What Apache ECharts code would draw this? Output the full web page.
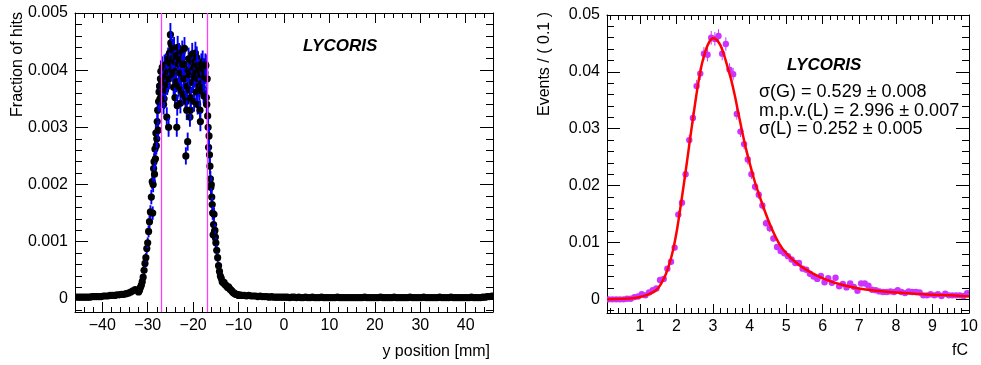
<!DOCTYPE html>
<html>
<head>
<meta charset="utf-8">
<script src="https://cdn.jsdelivr.net/npm/echarts@6/dist/echarts.min.js"></script>
<style>
html, body { margin: 0; padding: 0; background: #fff; }
#chart { width: 981px; height: 365px; }
</style>
</head>
<body>
<div id="chart"></div>
<script>
// ---------- Hit profile along y (left panel) ----------
// left tail, 0.5 mm bins
const tailLeftStart = -45.75, tailLeftStep = 0.5;
const tailLeftFrac = [
  0.00003, 0.00003, 0.00003, 0.00003, 0.00003, 0.00003, 0.00003, 0.00004, 0.00004, 0.00004,
  0.00004, 0.00004, 0.00005, 0.00005, 0.00005, 0.00006, 0.00006, 0.00006, 0.00007, 0.00007,
  0.00008, 0.00008, 0.00009, 0.00010, 0.00012, 0.00014, 0.00016, 0.00015
];
// rising edge, 0.2 mm bins
const edgeLeftStart = -32.0, edgeLeftStep = 0.2;
const edgeLeftFrac = [
  0.00012, 0.00015, 0.00020, 0.00024, 0.00030, 0.00038, 0.00050, 0.00062, 0.00072, 0.00088,
  0.00098, 0.00118, 0.00135, 0.00152, 0.00178
];
// beam spot plateau, 0.1 mm bins
const plateauStart = -29.0, plateauStep = 0.1;
const plateauFrac = [
  0.00205, 0.00150, 0.00200, 0.00228, 0.00240, 0.00218, 0.00262, 0.00245, 0.00290, 0.00268,
  0.00280, 0.00310, 0.00330, 0.00295, 0.00345, 0.00362, 0.00372, 0.00350, 0.00385, 0.00398,
  0.00360, 0.00382, 0.00405, 0.00372, 0.00378, 0.00340, 0.00350, 0.00408, 0.00388, 0.00365,
  0.00410, 0.00392, 0.00318, 0.00375, 0.00398, 0.00420, 0.00300, 0.00385, 0.00430, 0.00412,
  0.00462, 0.00448, 0.00445, 0.00400, 0.00420, 0.00435, 0.00392, 0.00370, 0.00438, 0.00415,
  0.00352, 0.00398, 0.00425, 0.00380, 0.00300, 0.00338, 0.00440, 0.00410, 0.00372, 0.00428,
  0.00418, 0.00395, 0.00342, 0.00365, 0.00395, 0.00420, 0.00432, 0.00410, 0.00358, 0.00385,
  0.00410, 0.00438, 0.00385, 0.00352, 0.00250, 0.00345, 0.00330, 0.00372, 0.00275, 0.00400,
  0.00420, 0.00392, 0.00365, 0.00318, 0.00330, 0.00352, 0.00398, 0.00415, 0.00428, 0.00378,
  0.00380, 0.00405, 0.00345, 0.00388, 0.00415, 0.00430, 0.00395, 0.00362, 0.00422, 0.00408,
  0.00340, 0.00385, 0.00400, 0.00372, 0.00365, 0.00330, 0.00310, 0.00392, 0.00410, 0.00378,
  0.00370, 0.00415, 0.00402, 0.00360, 0.00355, 0.00388, 0.00395, 0.00410, 0.00408, 0.00352,
  0.00340, 0.00385, 0.00320, 0.00300, 0.00265, 0.00285, 0.00252, 0.00232, 0.00210, 0.00195,
  0.00200, 0.00178, 0.00165, 0.00150, 0.00112, 0.00130, 0.00148, 0.00118, 0.00120, 0.00108,
  0.00098
];
// falling edge, 0.2 mm bins
const edgeRightStart = -14.8, edgeRightStep = 0.2;
const edgeRightFrac = [
  0.00085, 0.00072, 0.00058, 0.00048, 0.00040, 0.00036, 0.00030, 0.00028, 0.00029, 0.00025,
  0.00024, 0.00022, 0.00020, 0.00021, 0.00018, 0.00016, 0.00015, 0.00013, 0.00011, 0.00010,
  0.00009, 0.00008, 0.00008, 0.00007, 0.00006
];
// right tail, 0.5 mm bins
const tailRightStart = -9.75, tailRightStep = 0.5;
const tailRightFrac = [
  0.00007, 0.00006, 0.00006, 0.00005, 0.00006, 0.00005, 0.00005, 0.00005, 0.00004, 0.00005,
  0.00004, 0.00004, 0.00004, 0.00003, 0.00004, 0.00003, 0.00003, 0.00003, 0.00003, 0.00003,
  0.00003, 0.00003, 0.00002, 0.00003, 0.00003, 0.00002, 0.00003, 0.00002, 0.00002, 0.00003,
  0.00002, 0.00002, 0.00003, 0.00002, 0.00002, 0.00002, 0.00003, 0.00002, 0.00002, 0.00002,
  0.00002, 0.00002, 0.00002, 0.00003, 0.00002, 0.00002, 0.00002, 0.00002, 0.00002, 0.00002,
  0.00002, 0.00002, 0.00002, 0.00002, 0.00002, 0.00003, 0.00002, 0.00002, 0.00002, 0.00002,
  0.00002, 0.00002, 0.00003, 0.00002, 0.00002, 0.00002, 0.00002, 0.00002, 0.00003, 0.00002,
  0.00002, 0.00002, 0.00002, 0.00002, 0.00002, 0.00003, 0.00002, 0.00002, 0.00002, 0.00002,
  0.00002, 0.00003, 0.00002, 0.00002, 0.00002, 0.00002, 0.00002, 0.00002, 0.00003, 0.00002,
  0.00002, 0.00002, 0.00002, 0.00003, 0.00002, 0.00002, 0.00002, 0.00002, 0.00002, 0.00002,
  0.00002, 0.00002, 0.00003, 0.00002, 0.00002, 0.00002, 0.00002, 0.00003, 0.00003, 0.00004,
  0.00004, 0.00005
];
const hitEntries = 110000;          // statistics behind the error bars
const cutPositions = [-27, -17];    // fiducial window edges [mm]

// ---------- Charge spectrum (right panel) ----------
const chargeStart = 0.15, chargeStep = 0.1;
const chargeEvents = [
  0.0000, 0.0000, 0.0000, 0.0000, 0.0000, 0.0001, 0.0001, 0.0004, 0.0005,
  0.0009, 0.0007, 0.0012, 0.0016, 0.0019, 0.0034, 0.0036, 0.0054, 0.0066, 0.0091,
  0.0149, 0.0170, 0.0220, 0.0280, 0.0319, 0.0375, 0.0397, 0.0432, 0.0430, 0.0460,
  0.0458, 0.0463, 0.0432, 0.0449, 0.0404, 0.0396, 0.0326, 0.0295, 0.0273, 0.0246,
  0.0220, 0.0198, 0.0184, 0.0165, 0.0134, 0.0125, 0.0107, 0.0092, 0.0085, 0.0081,
  0.0076, 0.0070, 0.0064, 0.0064, 0.0054, 0.0052, 0.0045, 0.0040, 0.0036, 0.0041,
  0.0030, 0.0037, 0.0029, 0.0038, 0.0023, 0.0027, 0.0021, 0.0028, 0.0022, 0.0015,
  0.0028, 0.0028, 0.0024, 0.0017, 0.0016, 0.0014, 0.0013, 0.0013, 0.0014, 0.0013,
  0.0016, 0.0013, 0.0011, 0.0014, 0.0013, 0.0013, 0.0012, 0.0007, 0.0007, 0.0009,
  0.0007, 0.0009, 0.0006, 0.0010, 0.0007, 0.0007, 0.0007, 0.0007, 0.0006, 0.0011
];
const chargeEntries = 32000;
// Landau (x) Gauss fit
const fitCharge = [0.1, 0.5, 0.8, 1.0, 1.2, 1.4, 1.5, 1.6, 1.7, 1.8, 1.9, 2.0, 2.1, 2.2, 2.3, 2.4,
  2.5, 2.6, 2.7, 2.8, 2.9, 3.0, 3.1, 3.2, 3.3, 3.4, 3.5, 3.6, 3.7, 3.8, 3.9, 4.0, 4.1, 4.2,
  4.4, 4.6, 4.8, 5.0, 5.3, 5.6, 6.0, 6.5, 7.0, 7.5, 8.0, 8.5, 9.0, 9.5, 10.0];
const fitEvents = [0.0000, 0.0001, 0.0002, 0.0004, 0.0008, 0.0014, 0.0020, 0.0030, 0.0043, 0.0061,
  0.0085, 0.0117, 0.0158, 0.0202, 0.0248, 0.0295, 0.0340, 0.0382, 0.0415, 0.0438, 0.0453, 0.0459,
  0.0456, 0.0447, 0.0430, 0.0408, 0.0385, 0.0357, 0.0325, 0.0294, 0.0265, 0.0240, 0.0216, 0.0195,
  0.0158, 0.0125, 0.0099, 0.0081, 0.0063, 0.0050, 0.0037, 0.0026, 0.0019, 0.0015, 0.0012, 0.0010,
  0.0008, 0.0007, 0.0005];

// ---------- Axis ticks ----------
const leftXTicks = [-40, -30, -20, -10, 0, 10, 20, 30, 40];
const leftYTicks = [0, 0.001, 0.002, 0.003, 0.004, 0.005];
const rightXTicks = [1, 2, 3, 4, 5, 6, 7, 8, 9, 10];
const rightYTicks = [0, 0.01, 0.02, 0.03, 0.04, 0.05];

const FONT = "'Liberation Sans', Arial, Helvetica, sans-serif";

function binned(start, step, values) {
  return values.map((v, i) => [+(start + i * step).toFixed(4), v]);
}
function withErrors(points, entries) {
  return points.map(([x, y]) => [x, y, Math.sqrt(Math.max(y, 0) / entries)]);
}
function minorTicks(min, max, step) {
  const out = [];
  const k0 = Math.ceil(min / step - 1e-9), k1 = Math.floor(max / step + 1e-9);
  for (let k = k0; k <= k1; k++) out.push(+(k * step).toFixed(6));
  return out;
}
function minusFmt(digits) {
  return v => {
    if (Math.abs(v) < 1e-12) return '0';
    const s = Math.abs(v).toFixed(digits);
    return (v < 0 ? '\u2212' : '') + s;
  };
}

// four axes per dimension: labelled major, minor, and the mirrored pair on the far side
function frameAxes(dim, grid, min, max, majors, minors, fmt, majorLen, minorLen, labelMargin) {
  const sides = dim === 'x' ? ['bottom', 'top'] : ['left', 'right'];
  const base = { type: 'value', gridIndex: grid, min, max, splitLine: { show: false }, offset: 0 };
  const line = { show: true, onZero: false, lineStyle: { color: '#000', width: 1 } };
  const axes = [];
  sides.forEach((side, s) => {
    axes.push(Object.assign({}, base, {
      position: side,
      axisLine: line,
      axisTick: { show: true, inside: true, customValues: majors, length: majorLen,
                  lineStyle: { color: '#000', width: 1 } },
      axisLabel: s === 0
        ? { show: true, customValues: majors, formatter: fmt, fontSize: 16, color: '#000',
            fontFamily: FONT, margin: labelMargin }
        : { show: false }
    }));
    axes.push(Object.assign({}, base, {
      position: side,
      axisLine: { show: false, onZero: false },
      axisTick: { show: true, inside: true, customValues: minors, length: minorLen,
                  lineStyle: { color: '#000', width: 1 } },
      axisLabel: { show: false }
    }));
  });
  return axes;
}

function pointWithBar(markColor, barColor, r, barWidth) {
  return function (params, api) {
    const x = api.value(0), y = api.value(1), e = api.value(2);
    const c = api.coord([x, y]);
    const lo = api.coord([x, y - e]);
    const hi = api.coord([x, y + e]);
    return {
      type: 'group',
      children: [
        { type: 'line', shape: { x1: c[0], y1: lo[1], x2: c[0], y2: hi[1] },
          style: { stroke: barColor, lineWidth: barWidth } },
        { type: 'circle', shape: { cx: c[0], cy: c[1], r: r }, style: { fill: markColor } }
      ]
    };
  };
}

const hitPoints = withErrors(
  binned(tailLeftStart, tailLeftStep, tailLeftFrac)
    .concat(binned(edgeLeftStart, edgeLeftStep, edgeLeftFrac))
    .concat(binned(plateauStart, plateauStep, plateauFrac))
    .concat(binned(edgeRightStart, edgeRightStep, edgeRightFrac))
    .concat(binned(tailRightStart, tailRightStep, tailRightFrac)),
  hitEntries);
const chargePoints = withErrors(binned(chargeStart, chargeStep, chargeEvents), chargeEntries);
const fitLine = fitCharge.map((x, i) => [x, fitEvents[i]]);

const L = { xmin: -46, xmax: 46, ymin: -0.00023, ymax: 0.005 };
const R = { xmin: 0.1, xmax: 10, ymin: -0.0024, ymax: 0.05 };

const chart = echarts.init(document.getElementById('chart'), null, { renderer: 'canvas' });

const xAxes = []
  .concat(frameAxes('x', 0, L.xmin, L.xmax, leftXTicks, minorTicks(L.xmin, L.xmax, 2), minusFmt(0), 10, 5, 6))
  .concat(frameAxes('x', 1, R.xmin, R.xmax, rightXTicks, minorTicks(R.xmin, R.xmax, 0.2), minusFmt(0), 9, 5, 6));
const yAxes = []
  .concat(frameAxes('y', 0, L.ymin, L.ymax, leftYTicks, minorTicks(L.ymin, L.ymax, 0.0002), minusFmt(3), 13, 7, 7))
  .concat(frameAxes('y', 1, R.ymin, R.ymax, rightYTicks, minorTicks(R.ymin, R.ymax, 0.002), minusFmt(2), 13, 7, 7));

const textStyle = (txt, font, align) => ({ text: txt, font: font, fill: '#000', textAlign: align, textVerticalAlign: 'middle' });

chart.setOption({
  animation: false,
  backgroundColor: '#fff',
  grid: [
    { left: 75, top: 13, width: 418, height: 299 },
    { left: 607, top: 15, width: 362, height: 298 }
  ],
  xAxis: xAxes,
  yAxis: yAxes,
  series: [
    {
      name: 'hits',
      type: 'custom',
      xAxisIndex: 0, yAxisIndex: 0,
      renderItem: pointWithBar('#000', '#0000ff', 3.6, 1.9),
      data: hitPoints,
      encode: { x: 0, y: 1 },
      clip: true,
      z: 2
    },
    {
      name: 'cuts',
      type: 'line',
      xAxisIndex: 0, yAxisIndex: 0,
      data: [],
      z: 5,
      markLine: {
        silent: true,
        symbol: 'none',
        label: { show: false },
        lineStyle: { color: '#ff3dff', width: 1.3, type: 'solid' },
        data: cutPositions.map(v => ({ xAxis: v }))
      }
    },
    {
      name: 'charge',
      type: 'custom',
      xAxisIndex: 4, yAxisIndex: 4,
      renderItem: pointWithBar('#cc33ff', '#cc33ff', 3.2, 1),
      data: chargePoints,
      encode: { x: 0, y: 1 },
      clip: true,
      z: 2
    },
    {
      name: 'fit',
      type: 'line',
      xAxisIndex: 4, yAxisIndex: 4,
      data: fitLine,
      smooth: 0.35,
      showSymbol: false,
      lineStyle: { color: '#ff0000', width: 2.5 },
      clip: true,
      z: 4
    }
  ],
  graphic: [
    { type: 'text', x: 18, y: 12, rotation: Math.PI / 2,
      style: textStyle('Fraction of hits', '16px ' + FONT, 'right') },
    { type: 'text', x: 545, y: 12, rotation: Math.PI / 2,
      style: textStyle('Events / ( 0.1 )', '16px ' + FONT, 'right') },
    { type: 'text', x: 490, y: 352, style: textStyle('y position [mm]', '16px ' + FONT, 'right') },
    { type: 'text', x: 968, y: 351, style: textStyle('fC', '16px ' + FONT, 'right') },
    { type: 'text', x: 303, y: 46, style: textStyle('LYCORIS', 'italic bold 17px ' + FONT, 'left') },
    { type: 'text', x: 787, y: 65, style: textStyle('LYCORIS', 'italic bold 17px ' + FONT, 'left') },
    { type: 'text', x: 759, y: 92, style: textStyle('\u03C3(G) = 0.529 \u00B1 0.008', '18px ' + FONT, 'left') },
    { type: 'text', x: 759, y: 111, style: textStyle('m.p.v.(L) = 2.996 \u00B1 0.007', '18px ' + FONT, 'left') },
    { type: 'text', x: 759, y: 129.5, style: textStyle('\u03C3(L) = 0.252 \u00B1 0.005', '18px ' + FONT, 'left') }
  ]
});
</script>
</body>
</html>
